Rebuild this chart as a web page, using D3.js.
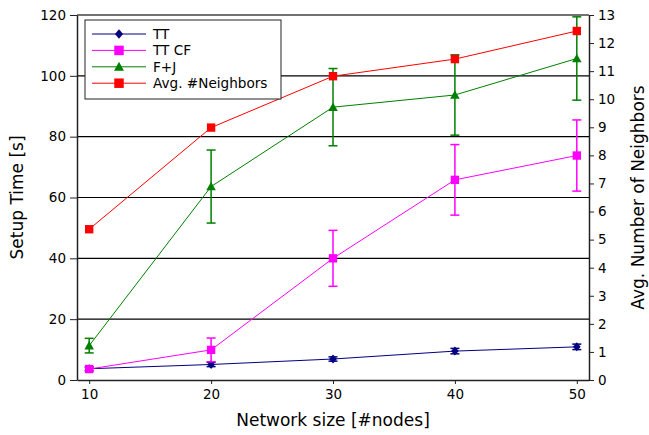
<!DOCTYPE html>
<html lang="en-us">
<meta charset="utf-8">
<head>
  <title>Setup Time vs Network size</title>
  <script src="https://d3js.org/d3.v7.min.js"></script>
  <style>
    body { margin: 0; background: #fff; }
    text { font-family: "DejaVu Sans", sans-serif; fill: #000; }
    .tick text { font-size: 13.5px; }
    .axis-title { font-size: 17px; }
    .legend text { font-size: 13.6px; }
  </style>
</head>
<body>
<script>
var width = 649, height = 435;
var margin = {top: 15, right: 60, bottom: 55, left: 77};

// data
var nodes = [10, 20, 30, 40, 50];
var tt = [3.7, 5.1, 6.9, 9.5, 10.9];
var ttErr = [0.6, 0.7, 0.7, 0.9, 0.9];
var ttcf = [3.6, 9.9, 40, 65.8, 73.8];
var ttcfErr = [0.6, 3.9, 9.2, 11.6, 11.7];
var fj = [11.3, 63.6, 89.7, 93.7, 105.7];
var fjErr = [2.4, 12.0, 12.7, 13.2, 13.7];
var neighbors = [5.37, 8.99, 10.82, 11.43, 12.43];
var leftTicks = [0, 20, 40, 60, 80, 100, 120];
var rightTicks = [0, 1, 2, 3, 4, 5, 6, 7, 8, 9, 10, 11, 12, 13];
var xTicks = [10, 20, 30, 40, 50];

var svg = d3.select("body").append("svg")
  .attr("width", width)
  .attr("height", height);

var x0 = margin.left, x1 = width - margin.right;
var y0 = height - margin.bottom, y1 = margin.top;

var x = d3.scaleLinear().domain([9, 51]).range([x0, x1]);
var y = d3.scaleLinear().domain([0, 120]).range([y0, y1]);
var y2 = d3.scaleLinear().domain([0, 13]).range([y0, y1]);

// horizontal grid at left ticks
svg.append("g").selectAll("line")
  .data(leftTicks.filter(function(d) { return d > 0 && d < 120; }))
  .enter().append("line")
  .attr("x1", x0).attr("x2", x1)
  .attr("y1", function(d) { return y(d); })
  .attr("y2", function(d) { return y(d); })
  .style("stroke", "#000").style("stroke-width", 1.2);

var diamond = {
  draw: function(ctx, s) {
    var r = Math.sqrt(s) / 2;
    ctx.moveTo(0, -r); ctx.lineTo(r * 0.85, 0); ctx.lineTo(0, r); ctx.lineTo(-r * 0.85, 0); ctx.closePath();
  }
};
var triangle = {
  draw: function(ctx, s) {
    var r = Math.sqrt(s) / 2.1;
    ctx.moveTo(0, -r); ctx.lineTo(r, r * 0.8); ctx.lineTo(-r, r * 0.8); ctx.closePath();
  }
};

function makeSeries(vals, errs, color, shape, size, scale) {
  var g = svg.append("g");
  var pts = nodes.map(function(n, i) { return {x: n, v: vals[i], e: errs ? errs[i] : 0}; });
  var line = d3.line().x(function(d) { return x(d.x); }).y(function(d) { return scale(d.v); });
  g.append("path").datum(pts).attr("d", line)
    .style("fill", "none").style("stroke", color).style("stroke-width", 1);
  if (errs) {
    var eb = g.selectAll(".err").data(pts).enter().append("g");
    eb.append("line")
      .attr("x1", function(d) { return x(d.x); }).attr("x2", function(d) { return x(d.x); })
      .attr("y1", function(d) { return scale(Math.min(d.v + d.e, 120)); })
      .attr("y2", function(d) { return scale(d.v - d.e); })
      .style("stroke", color).style("stroke-width", 1.5);
    [1, -1].forEach(function(s) {
      eb.filter(function(d) { return d.v + s * d.e <= 120; })
        .append("line")
        .attr("x1", function(d) { return x(d.x) - 4.5; }).attr("x2", function(d) { return x(d.x) + 4.5; })
        .attr("y1", function(d) { return scale(d.v + s * d.e); })
        .attr("y2", function(d) { return scale(d.v + s * d.e); })
        .style("stroke", color).style("stroke-width", 1.5);
    });
  }
  g.selectAll(".pt").data(pts).enter().append("path")
    .attr("transform", function(d) { return "translate(" + x(d.x) + "," + scale(d.v) + ")"; })
    .attr("d", d3.symbol().type(shape).size(size))
    .style("fill", color);
}

makeSeries(tt, ttErr, "#000080", diamond, 81, y);
makeSeries(ttcf, ttcfErr, "#ff00ff", d3.symbolSquare, 70, y);
makeSeries(fj, fjErr, "#008000", triangle, 100, y);
makeSeries(neighbors, null, "#ff0000", d3.symbolSquare, 70, y2);

// frame
svg.append("line").attr("x1", x0).attr("x2", x1).attr("y1", y1).attr("y2", y1)
  .style("stroke", "#444").style("stroke-width", 1.5);

// axes
var xAxis = svg.append("g").attr("transform", "translate(0," + y0 + ")")
  .call(d3.axisBottom(x).tickValues(xTicks).tickSize(4).tickPadding(5).tickSizeOuter(0));
var yAxis = svg.append("g").attr("transform", "translate(" + x0 + ",0)")
  .call(d3.axisLeft(y).tickValues(leftTicks).tickSize(7).tickPadding(4).tickSizeOuter(0));
var yAxis2 = svg.append("g").attr("transform", "translate(" + x1 + ",0)")
  .call(d3.axisRight(y2).tickValues(rightTicks).tickSize(5).tickPadding(4).tickSizeOuter(0));
[xAxis, yAxis, yAxis2].forEach(function(a) {
  a.select(".domain").style("stroke", "#222").style("stroke-width", 1.5);
  a.selectAll(".tick line").style("stroke", "#222").style("stroke-width", 1);
  a.attr("font-family", null).attr("font-size", null);
});

// axis titles
svg.append("text").attr("class", "axis-title")
  .attr("x", (x0 + x1) / 2).attr("y", 426)
  .attr("text-anchor", "middle").text("Network size [#nodes]");
svg.append("text").attr("class", "axis-title")
  .attr("transform", "translate(23," + ((y0 + y1) / 2) + ") rotate(-90)")
  .attr("text-anchor", "middle").text("Setup Time [s]");
svg.append("text").attr("class", "axis-title")
  .attr("transform", "translate(644," + ((y0 + y1) / 2) + ") rotate(-90)")
  .attr("text-anchor", "middle").text("Avg. Number of Neighbors");

// legend
var legendNames = ["TT", "TT CF", "F+J", "Avg. #Neighbors"];
var legendColors = ["#000080", "#ff00ff", "#008000", "#ff0000"];
var legendShapes = [diamond, d3.symbolSquare, triangle, d3.symbolSquare];
var legendSizes = [90, 90, 110, 90];

svg.append("rect")
  .attr("x", 85).attr("y", 20).attr("width", 196).attr("height", 79)
  .style("fill", "#fff").style("stroke", "#222").style("stroke-width", 1);

var legend = svg.selectAll(".legend").data(legendNames).enter().append("g")
  .attr("class", "legend")
  .attr("transform", function(d, i) { return "translate(92," + (34 + i * 16.4) + ")"; });
legend.append("line").attr("x1", 0).attr("x2", 54)
  .style("stroke", function(d, i) { return legendColors[i]; }).style("stroke-width", 1);
legend.append("path")
  .attr("transform", "translate(27,0)")
  .attr("d", function(d, i) { return d3.symbol().type(legendShapes[i]).size(legendSizes[i])(); })
  .style("fill", function(d, i) { return legendColors[i]; });
legend.append("text").attr("x", 61).attr("y", 5).text(function(d) { return d; });
</script>
</body>
</html>
